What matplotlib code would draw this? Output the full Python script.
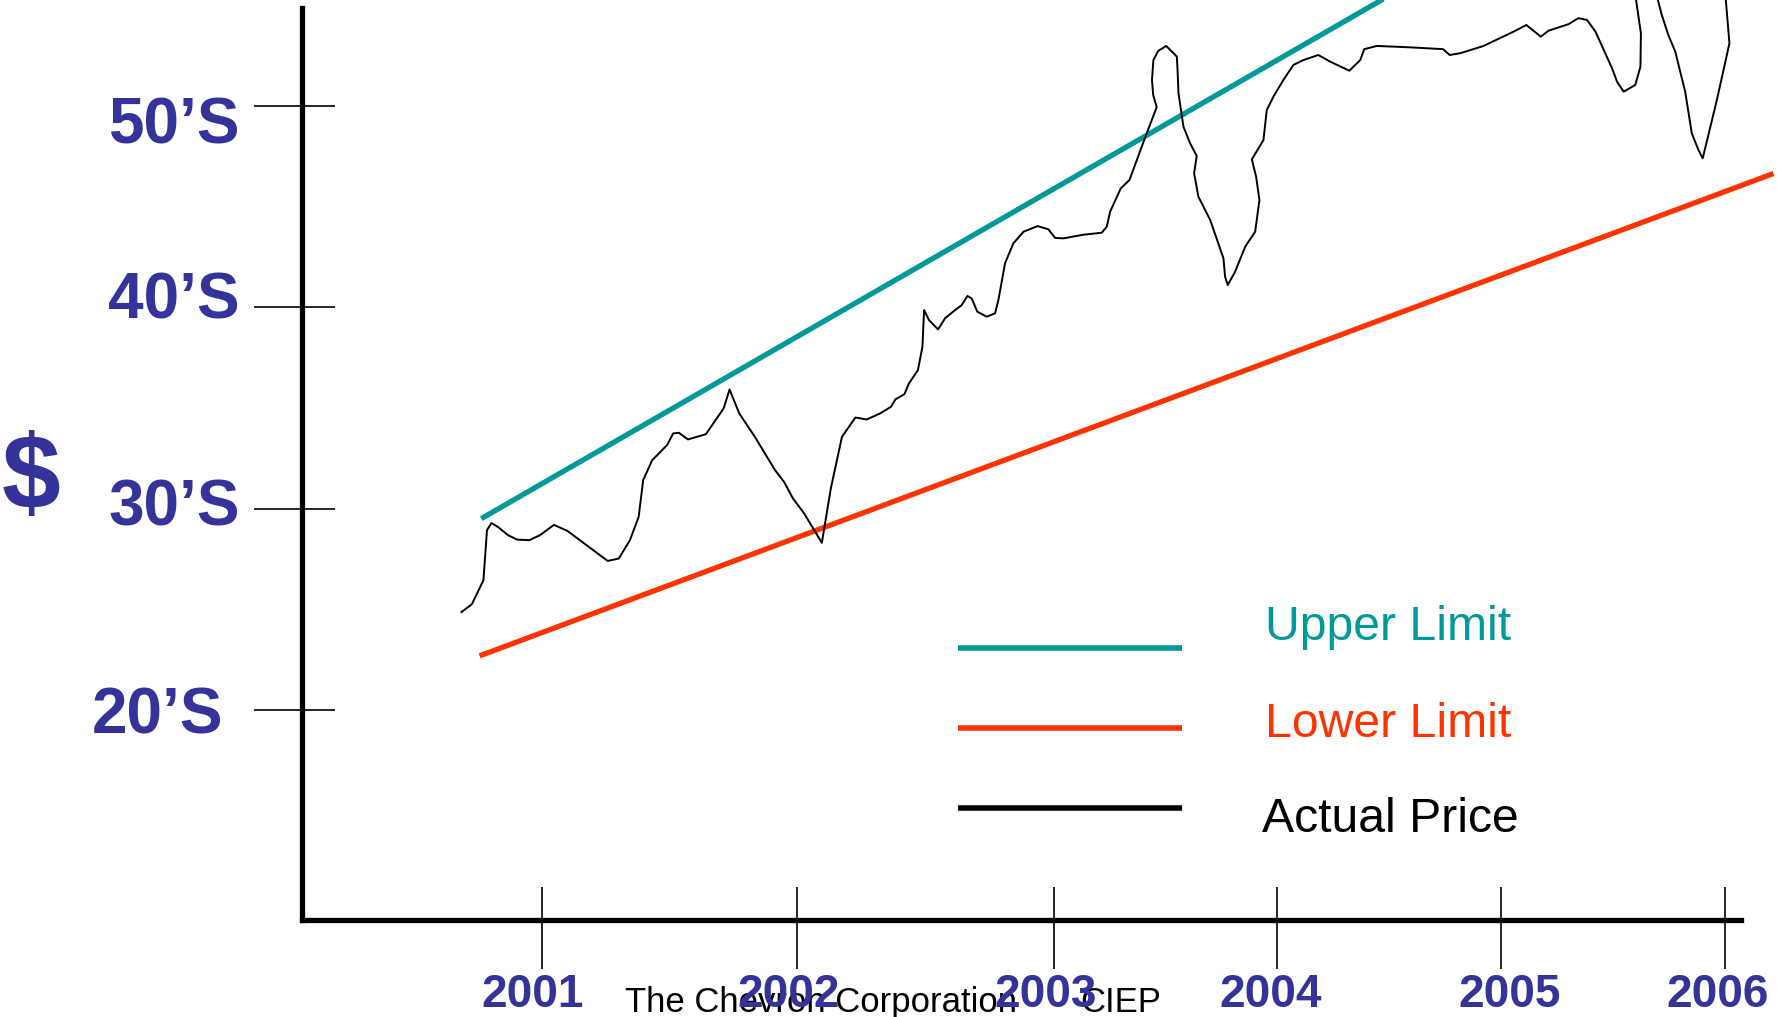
import matplotlib.pyplot as plt
import matplotlib.transforms as mtransforms
from matplotlib.lines import Line2D

# Actual price curve (year, $ per barrel)
price_year = [
    2000.661, 2000.705, 2000.754, 2000.769, 2000.788, 2000.816, 2000.858, 2000.896,
    2000.948, 2000.993, 2001.052, 2001.109, 2001.196, 2001.279, 2001.326, 2001.373,
    2001.410, 2001.429, 2001.467, 2001.530, 2001.556, 2001.580, 2001.618, 2001.694,
    2001.769, 2001.794, 2001.835, 2001.901, 2001.986, 2002.024, 2002.062, 2002.109,
    2002.184, 2002.222, 2002.269, 2002.326, 2002.373, 2002.430, 2002.476, 2002.495,
    2002.533, 2002.552, 2002.590, 2002.609, 2002.616, 2002.637, 2002.675, 2002.705,
    2002.747, 2002.775, 2002.799, 2002.817, 2002.841, 2002.881, 2002.916, 2002.930,
    2002.958, 2002.993, 2003.036, 2003.096, 2003.141, 2003.170, 2003.205, 2003.289,
    2003.367, 2003.388, 2003.402, 2003.447, 2003.484, 2003.554, 2003.599, 2003.584,
    2003.579, 2003.585, 2003.605, 2003.639, 2003.684, 2003.687, 2003.691, 2003.712,
    2003.740, 2003.768, 2003.757, 2003.775, 2003.825, 2003.881, 2003.888, 2003.899,
    2003.930, 2003.973, 2004.015, 2004.033, 2004.019, 2004.001, 2004.050, 2004.064,
    2004.092, 2004.134, 2004.177, 2004.219, 2004.282, 2004.332, 2004.413, 2004.459,
    2004.476, 2004.529, 2004.670, 2004.809, 2004.837, 2004.882, 2004.980, 2005.107,
    2005.161, 2005.222, 2005.255, 2005.339, 2005.381, 2005.417, 2005.453, 2005.523,
    2005.544, 2005.572, 2005.621, 2005.643, 2005.645, 2005.615, 2005.660, 2005.700,
    2005.733, 2005.761, 2005.790, 2005.832, 2005.860, 2005.888, 2005.906, 2005.966,
    2006.019, 2005.997,
]
price_usd = [
    24.86, 25.25, 26.44, 28.93, 29.28, 29.08, 28.68, 28.46,
    28.43, 28.68, 29.19, 28.89, 28.13, 27.40, 27.52, 28.43,
    29.59, 31.41, 32.40, 33.15, 33.73, 33.76, 33.43, 33.69,
    34.97, 35.91, 34.72, 33.56, 31.91, 31.33, 30.50, 29.76,
    28.30, 31.00, 33.56, 34.52, 34.42, 34.72, 35.05, 35.42,
    35.68, 36.21, 36.87, 38.03, 39.85, 39.35, 38.89, 39.45,
    39.85, 40.10, 40.55, 40.43, 39.77, 39.52, 39.69, 40.35,
    42.17, 43.16, 43.74, 44.02, 43.86, 43.43, 43.41, 43.59,
    43.69, 43.99, 44.73, 45.89, 46.31, 48.54, 49.92, 50.53,
    51.27, 52.26, 52.71, 52.96, 52.43, 51.77, 50.61, 48.95,
    48.13, 47.50, 46.64, 45.48, 44.32, 42.42, 41.50, 41.09,
    41.75, 43.00, 43.74, 45.31, 46.47, 47.33, 48.29, 49.78,
    50.44, 51.27, 52.02, 52.26, 52.51, 52.18, 51.73, 52.26,
    52.80, 52.96, 52.89, 52.80, 52.51, 52.60, 52.96, 53.67,
    54.00, 53.42, 53.72, 54.04, 54.34, 54.25, 53.67, 51.85,
    51.19, 50.69, 51.02, 51.93, 53.59, 56.00, 57.50, 56.00,
    54.50, 53.50, 52.68, 50.69, 48.62, 47.80, 47.38, 50.28,
    53.09, 56.20,
]

# trend channel
upper_year = [2000.745, 2004.75]
upper_usd = [29.5, 56.6]
lower_year = [2000.738, 2006.205]
lower_usd = [22.69, 46.63]

y_ticks = [20, 30, 40, 50]
y_labels = ["20\u2019S", "30\u2019S", "40\u2019S", "50\u2019S"]
x_labels = ["2001", "2002", "2003", "2004", "2005", "2006"]
legend_labels = ["Upper Limit", "Lower Limit", "Actual Price"]

# layout (the hand-drawn year ticks are not evenly spaced)
x_tick_at = [2001.0, 2002.08, 2003.163, 2004.109, 2005.055, 2006.0]
x_label_at = [2000.963, 2002.045, 2003.131, 2004.080, 2005.090, 2005.969]
y_label_x = [0.1256, 0.1349, 0.1349, 0.1349]
y_label_base = [18.84, 29.14, 39.43, 48.11]

NAVY = '#333399'
TEAL = '#009999'
RED = '#FF3300'
FONT = ['Liberation Sans', 'DejaVu Sans']

fig = plt.figure(figsize=(17.77, 10.17), dpi=100)
ax = fig.add_axes([0.1699, 0.0950, 1 - 0.1699, 1 - 0.0950])
ax.set_xlim(1999.987, 2006.22)
ax.set_ylim(9.56, 55.24)
ax.patch.set_visible(False)

# axes lines
for side in ['top', 'right']:
    ax.spines[side].set_visible(False)
for side in ['left', 'bottom']:
    ax.spines[side].set_linewidth(3.8)
    ax.spines[side].set_capstyle('projecting')
ax.spines['left'].set_bounds(9.56, 54.86)
ax.spines['bottom'].set_bounds(1999.987, 2006.068)

# ticks cross the axis lines: out part as major, in part as minor
ax.set_xticks(x_tick_at)
ax.set_xticks(x_tick_at, minor=True)
ax.set_yticks(y_ticks)
ax.set_yticks(y_ticks, minor=True)
ax.xaxis.remove_overlapping_locs = False
ax.yaxis.remove_overlapping_locs = False
ax.tick_params(axis='x', which='major', direction='out', length=35.3, width=1.2, labelbottom=False)
ax.tick_params(axis='x', which='minor', direction='in', length=23.5, width=1.2, labelbottom=False)
ax.tick_params(axis='y', which='major', direction='out', length=34.8, width=1.2, labelleft=False)
ax.tick_params(axis='y', which='minor', direction='in', length=23.7, width=1.2, labelleft=False)

# series
ax.plot(upper_year, upper_usd, color=TEAL, lw=3.8, solid_capstyle='butt')
ax.plot(lower_year, lower_usd, color=RED, lw=3.8, solid_capstyle='butt')
ax.plot(price_year, price_usd, color='black', lw=1.4, solid_joinstyle='round')

# tick labels
ytrans = mtransforms.blended_transform_factory(fig.transFigure, ax.transData)
for lab, xx, yy in zip(y_labels, y_label_x, y_label_base):
    ax.text(xx, yy, lab, transform=ytrans, ha='right', va='baseline',
            fontsize=46, fontweight='bold', color=NAVY, family=FONT)

xtrans = mtransforms.blended_transform_factory(ax.transData, fig.transFigure)
for lab, xx in zip(x_labels, x_label_at):
    ax.text(xx, 0.0097, lab, transform=xtrans, ha='center', va='baseline',
            fontsize=33, fontweight='bold', color=NAVY, family=FONT, zorder=4)

ax.text(0.0175, 0.500, "$", transform=fig.transFigure, ha='center', va='baseline',
        fontsize=76, fontweight='bold', color=NAVY, family=FONT)

# footer, drawn under the year labels
ax.text(0.3517, 0.0048, "The Chevron Corporation", transform=fig.transFigure,
        ha='left', va='baseline', fontsize=25, color='black', family=FONT, zorder=2)
ax.text(0.6078, 0.0048, "CIEP", transform=fig.transFigure,
        ha='left', va='baseline', fontsize=25, color='black', family=FONT, zorder=2)

# hand-made legend
leg_colors = [TEAL, RED, 'black']
leg_line_y = [0.3629, 0.2842, 0.2055]
leg_text_x = [0.7121, 0.7121, 0.7100]
leg_text_y = [0.3705, 0.2754, 0.1819]
for lab, c, ly, tx, ty in zip(legend_labels, leg_colors, leg_line_y, leg_text_x, leg_text_y):
    ax.add_line(Line2D([0.5393, 0.6650], [ly, ly], transform=fig.transFigure,
                       color=c, lw=4.0, solid_capstyle='butt', clip_on=False))
    ax.text(tx, ty, lab, transform=fig.transFigure, ha='left', va='baseline',
            fontsize=34.7, color=c, family=FONT)

fig.savefig('out.png', dpi=100)
